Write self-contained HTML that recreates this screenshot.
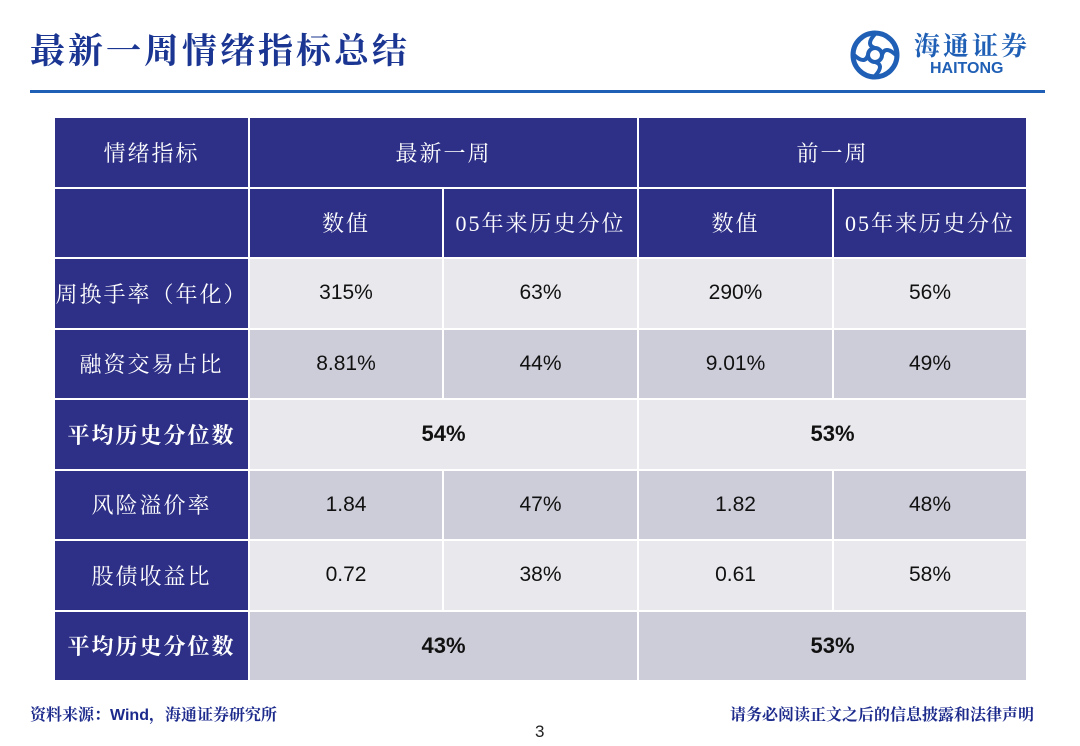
<!DOCTYPE html>
<html><head><meta charset="utf-8"><style>
*{margin:0;padding:0;box-sizing:border-box}
body{width:1080px;height:746px;background:#fff;position:relative;overflow:hidden;font-family:"Liberation Sans","Noto Sans CJK SC",sans-serif}
.abs{position:absolute}
.title{left:30px;top:30px;font-size:35px;font-weight:bold;color:#1a3592;font-family:"Liberation Serif","Noto Serif CJK SC",serif;letter-spacing:3px;line-height:44px}
.rule{left:30px;top:90px;width:1015px;height:3px;background:#1f5fb5}
table{position:absolute;left:53px;top:116px;border-collapse:collapse;table-layout:fixed}
td{border:2px solid #fff;height:70.5px;text-align:center;font-size:21px;color:#111;padding:0}
td.h{background:#2e3087;color:#fff;font-family:"Liberation Serif","Noto Serif CJK SC",serif;font-size:22px;letter-spacing:2px}
tr.l td:not(.h){background:#e8e8ed}
tr.d td:not(.h){background:#cdcdda}
td.b{font-weight:bold;font-size:22px}
td.hb{font-weight:bold}
.foot{font-size:16px;color:#1c2a8c;font-family:"Liberation Serif","Noto Serif CJK SC",serif;top:702px;font-weight:bold}
</style></head><body>
<div class="abs title">最新一周情绪指标总结</div>
<div class="abs rule"></div>
<div class="abs" style="left:850px;top:30px;width:190px;height:50px">
<svg width="50" height="50" viewBox="0 0 50 50" style="position:absolute;left:0;top:0"><circle cx="25" cy="25" r="22" fill="none" stroke="#1f5fb5" stroke-width="5"/><circle cx="25" cy="25" r="7" fill="none" stroke="#1f5fb5" stroke-width="4"/><path d="M25 4 Q15 15 25 18 M25 46 Q35 35 25 32 M4 25 Q15 35 18 25 M46 25 Q35 15 32 25" stroke="#1f5fb5" stroke-width="4" fill="none"/></svg>
<div style="position:absolute;left:64px;top:0px;font-size:26px;font-weight:bold;color:#1f5fb5;font-family:'Noto Serif CJK SC',serif;letter-spacing:3px;line-height:30px">海通证券</div>
<div style="position:absolute;left:80px;top:30px;font-size:16px;font-weight:bold;color:#1f5fb5">HAITONG</div>
</div>
<table>
<colgroup><col style="width:195px"><col style="width:194px"><col style="width:195px"><col style="width:195px"><col style="width:194px"></colgroup>
<tr><td class="h">情绪指标</td><td class="h" colspan="2">最新一周</td><td class="h" colspan="2">前一周</td></tr>
<tr><td class="h"></td><td class="h">数值</td><td class="h">05年来历史分位</td><td class="h">数值</td><td class="h">05年来历史分位</td></tr>
<tr class="l"><td class="h">周换手率（年化）</td><td>315%</td><td>63%</td><td>290%</td><td>56%</td></tr>
<tr class="d"><td class="h">融资交易占比</td><td>8.81%</td><td>44%</td><td>9.01%</td><td>49%</td></tr>
<tr class="l"><td class="h hb">平均历史分位数</td><td colspan="2" class="b">54%</td><td colspan="2" class="b">53%</td></tr>
<tr class="d"><td class="h">风险溢价率</td><td>1.84</td><td>47%</td><td>1.82</td><td>48%</td></tr>
<tr class="l"><td class="h">股债收益比</td><td>0.72</td><td>38%</td><td>0.61</td><td>58%</td></tr>
<tr class="d"><td class="h hb">平均历史分位数</td><td colspan="2" class="b">43%</td><td colspan="2" class="b">53%</td></tr>
</table>
<div class="abs foot" style="left:30px">资料来源：<b style="font-family:'Liberation Sans',sans-serif">Wind</b>，海通证券研究所</div>
<div class="abs foot" style="right:46px">请务必阅读正文之后的信息披露和法律声明</div>
<div class="abs" style="left:535px;top:722px;font-size:17px;color:#222">3</div>
</body></html>
